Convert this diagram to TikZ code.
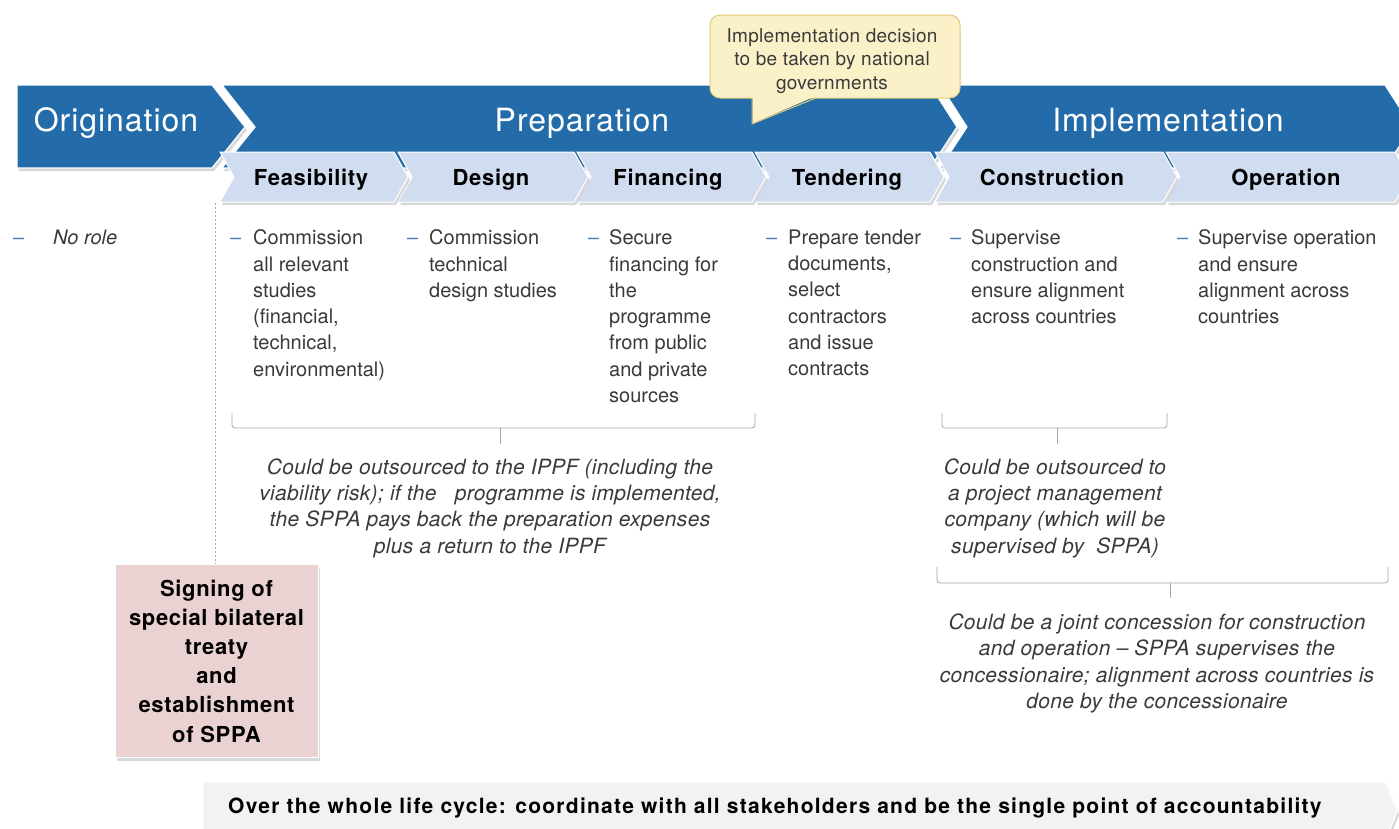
\documentclass[tikz,border=0pt]{standalone}
\usepackage{fontspec}
\setmainfont{TeX Gyre Heros}
\usetikzlibrary{shadows}
\definecolor{bigblue}{HTML}{236CA9}
\definecolor{subblue}{HTML}{D0DCEF}
\definecolor{dashblue}{HTML}{4A7DBA}
\definecolor{calloutfill}{HTML}{FBF1C8}
\definecolor{calloutline}{HTML}{E2C774}
\definecolor{pinkfill}{HTML}{EBD2D2}
\definecolor{bodygray}{HTML}{3A3A3A}
\definecolor{bargray}{HTML}{F2F2F2}
\newcommand\myfs[2]{\fontsize{#1}{#2}\selectfont}
\tikzset{
  myshadow/.style={drop shadow={opacity=0.3, shadow xshift=2pt, shadow yshift=-3pt}},
  bigchev/.style={fill=bigblue, draw=white, line width=1.2pt, myshadow},
  subchev/.style={fill=subblue, draw=white, line width=1pt, myshadow},
  biglabel/.style={text=white, font=\myfs{32}{36}\addfontfeature{LetterSpace=3}, anchor=base, inner sep=0pt},
  sublabel/.style={text=black, font=\bfseries\myfs{22}{25}\addfontfeature{LetterSpace=3}, anchor=base, inner sep=0pt},
  dashmark/.style={text=dashblue, font=\myfs{20}{26.3}, anchor=base west, inner sep=0pt},
  bodytext/.style={text=bodygray, font=\myfs{20}{26.3}, anchor=north west, align=left, inner sep=0pt},
  notetext/.style={text=bodygray, font=\itshape\myfs{21}{26.3}\addfontfeature{LetterSpace=1.5}, anchor=north, align=center, inner sep=0pt},
  bracket/.style={draw=gray!70, line width=0.8pt, rounded corners=3pt},
  vline/.style={draw=gray!70, line width=0.7pt, dash pattern=on 2pt off 2pt},
  pinkbox/.style={fill=pinkfill, draw=white, line width=0.8pt, myshadow, minimum width=203pt, minimum height=193pt, align=center, font=\bfseries\myfs{22}{29.2}\addfontfeature{LetterSpace=3}, text=black, inner sep=0pt},
  callout/.style={fill=calloutfill, draw=calloutline, line width=1pt},
  callouttext/.style={text=bodygray, font=\myfs{19}{23.5}\addfontfeature{LetterSpace=1.5}, anchor=north, align=center, inner sep=0pt},
  bartext/.style={text=black, font=\bfseries\myfs{21}{23}\addfontfeature{LetterSpace=6}, anchor=base west, inner sep=0pt},
}
\begin{document}
\begin{tikzpicture}[x=1pt,y=-1pt]
\useasboundingbox[fill=white] (0,0) rectangle (1399,828);

% big chevrons (back to front)
\path[bigchev] (940,85) -- (1385,85) -- (1412,127) -- (1385,168) -- (940,168) -- (967,127) -- cycle;
\path[bigchev] (222,85) -- (930,85) -- (957,127) -- (930,168) -- (222,168) -- (255,127) -- cycle;
\path[bigchev] (17,85) -- (212,85) -- (245,127) -- (212,168) -- (17,168) -- cycle;
\node[biglabel] (orig) at (116,131) {Origination};
\node[biglabel] (prep) at (582,131) {Preparation};
\node[biglabel] (impl) at (1168,131) {Implementation};

% sub chevrons (right to left)
\path[subchev] (1166,152) -- (1395,152) -- (1409,177) -- (1395,202) -- (1166,202) -- (1180,177) -- cycle;
\path[subchev] (935,152) -- (1163,152) -- (1177,177) -- (1163,202) -- (935,202) -- (949,177) -- cycle;
\path[subchev] (755,152) -- (930,152) -- (944,177) -- (930,202) -- (755,202) -- (769,177) -- cycle;
\path[subchev] (577,152) -- (752,152) -- (766,177) -- (752,202) -- (577,202) -- (591,177) -- cycle;
\path[subchev] (398,152) -- (574,152) -- (588,177) -- (574,202) -- (398,202) -- (412,177) -- cycle;
\path[subchev] (220,152) -- (394,152) -- (408,177) -- (394,202) -- (220,202) -- (234,177) -- cycle;
\node[sublabel] (feas) at (311,185) {Feasibility};
\node[sublabel] (desi) at (491,185) {Design};
\node[sublabel] (fina) at (668,185) {Financing};
\node[sublabel] (tend) at (847,185) {Tendering};
\node[sublabel] (cons) at (1052,185) {Construction};
\node[sublabel] (oper) at (1286,185) {Operation};

% callout
\path[callout, rounded corners=10pt] (710,15) rectangle (960,98);
\fill[calloutfill] (752.6,96.8) -- (814,96.8) -- (752.6,123.5) -- cycle;
\draw[calloutline, line width=1pt] (752,98.3) -- (752,124) -- (815,98.3);
\node[callouttext] (call) at (832,28) {Implementation decision\\to be taken by national\\governments};

% body texts
\node[dashmark] (d0) at (13,244) {–};
\node[bodytext, font=\itshape\myfs{20}{26.3}] (t0) at (53,229.6) {No role};
\node[dashmark] (d1) at (230,244) {–};
\node[bodytext] (t1) at (253,229.6) {Commission\\all relevant\\studies\\(financial,\\technical,\\environmental)};
\node[dashmark] (d2) at (407,244) {–};
\node[bodytext] (t2) at (429,229.6) {Commission\\technical\\design studies};
\node[dashmark] (d3) at (588,244) {–};
\node[bodytext] (t3) at (609,229.6) {Secure\\financing for\\the\\programme\\from public\\and private\\sources};
\node[dashmark] (d4) at (766,244) {–};
\node[bodytext] (t4) at (788,229.6) {Prepare tender\\documents,\\select\\contractors\\and issue\\contracts};
\node[dashmark] (d5) at (950,244) {–};
\node[bodytext] (t5) at (971,229.6) {Supervise\\construction and\\ensure alignment\\across countries};
\node[dashmark] (d6) at (1177,244) {–};
\node[bodytext] (t6) at (1198,229.6) {Supervise operation\\and ensure\\alignment across\\countries};

% brackets
\draw[bracket] (232,413) -- (232,428) -- (755,428) -- (755,413);
\draw[bracket] (500,428) -- (500,444);
\draw[bracket] (942,413) -- (942,428) -- (1167,428) -- (1167,413);
\draw[bracket] (1057,428) -- (1057,444);
\draw[bracket] (937,567) -- (937,583) -- (1388,583) -- (1388,567);
\draw[bracket] (1170,583) -- (1170,598);

% notes
\node[notetext] (n1) at (490,458.5) {Could be outsourced to the IPPF (including the\\viability risk); if the \ \ programme is implemented,\\the SPPA pays back the preparation expenses\\plus a return to the IPPF};
\node[notetext] (n2) at (1055,458.5) {Could be outsourced to\\a project management\\company (which will be\\supervised by \ SPPA)};
\node[notetext] (n3) at (1157,613.5) {Could be a joint concession for construction\\and operation – SPPA supervises the\\concessionaire; alignment across countries is\\done by the concessionaire};

% pink box and dotted line
\node[pinkbox] (sppa) at (216.5,661) {Signing of\\special bilateral\\treaty\\and\\establishment\\of SPPA};
\coordinate (dtop) at (215,203);
\draw[vline] (dtop) -- (dtop |- sppa.north);

% bottom bar
\path[fill=bargray, draw=white, line width=1pt, myshadow] (203,782) -- (1385,782) -- (1397,812) -- (1385,842) -- (203,842) -- cycle;
\node[bartext] (bar) at (228,813) {Over the whole life cycle: coordinate with all stakeholders and be the single point of accountability};
\end{tikzpicture}
\end{document}
